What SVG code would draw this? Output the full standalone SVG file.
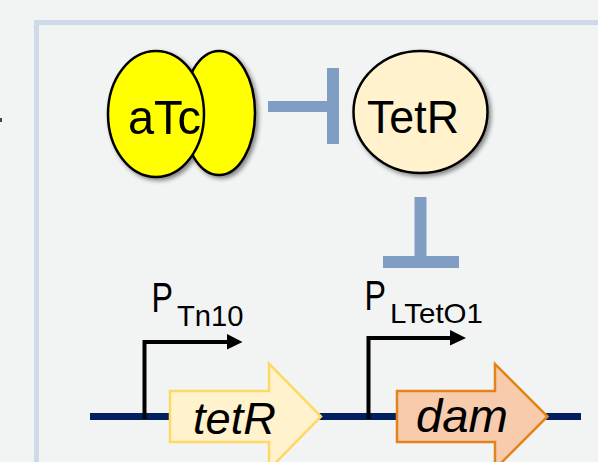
<svg xmlns="http://www.w3.org/2000/svg" width="598" height="462" viewBox="0 0 598 462">
<defs>
<filter id="sh" x="-20%" y="-20%" width="150%" height="150%">
<feDropShadow dx="2.5" dy="2.5" stdDeviation="2" flood-color="#000" flood-opacity="0.45"/>
</filter>
</defs>
<style>
.txt{font-family:"Liberation Sans",Arial,sans-serif;fill:#000}
.inh{fill:#809ec4}
.prom{fill:none;stroke:#000;stroke-width:4}
.mol{stroke:#000;stroke-width:2.5}
</style>
<rect x="0" y="0" width="598" height="462" fill="#f2f3f3"/>
<rect x="0" y="118" width="2" height="4" fill="#444"/>
<rect x="36.5" y="22.5" width="600" height="480" fill="#f2f3f3" stroke="#cfdae8" stroke-width="5"/>
<line x1="90" y1="416.5" x2="581" y2="416.5" stroke="#002060" stroke-width="7"/>
<g id="aTc" filter="url(#sh)">
<ellipse cx="219" cy="113" rx="36" ry="62" fill="#ffff00" class="mol"/>
<ellipse cx="156" cy="114" rx="48" ry="63" fill="#ffff00" class="mol"/>
<text x="164.5" y="134" class="txt" font-size="48" text-anchor="middle" textLength="73" lengthAdjust="spacingAndGlyphs">aTc</text>
</g>
<g id="TetR">
<ellipse cx="420.5" cy="112" rx="67" ry="61" fill="#fff2cc" class="mol" filter="url(#sh)"/>
<text x="413" y="133" class="txt" font-size="46" text-anchor="middle" textLength="92" lengthAdjust="spacingAndGlyphs">TetR</text>
</g>
<g id="connectors">
<rect x="268" y="101" width="62" height="11" class="inh"/>
<rect x="327" y="68" width="12" height="76" class="inh"/>
<rect x="414.5" y="197" width="12" height="62" class="inh"/>
<rect x="383" y="256" width="76" height="12" class="inh"/>
</g>
<g id="PTn10">
<polyline points="144.5,419 144.5,342 229,342" class="prom"/>
<polygon points="227,334 242.5,342 227,349.5" fill="#000"/>
<text x="151.5" y="312" class="txt" font-size="43" textLength="21.5" lengthAdjust="spacingAndGlyphs">P</text>
<text x="177" y="325.5" class="txt" font-size="29" textLength="66.5" lengthAdjust="spacingAndGlyphs">Tn10</text>
</g>
<g id="PLTetO1">
<polyline points="368.5,419 368.5,338 452,338" class="prom"/>
<polygon points="450,330 466,338 450,345.5" fill="#000"/>
<text x="364.5" y="309.5" class="txt" font-size="43" textLength="21.5" lengthAdjust="spacingAndGlyphs">P</text>
<text x="390" y="322.7" class="txt" font-size="28" textLength="93" lengthAdjust="spacingAndGlyphs">LTetO1</text>
</g>
<g id="tetR">
<polygon points="170,391 269,391 269,363.5 321,416.5 269,469.5 269,442 170,442" fill="#fff2cc" stroke="#ffd966" stroke-width="2.5"/>
<text x="193" y="434" class="txt" font-size="44" font-style="italic" textLength="83" lengthAdjust="spacingAndGlyphs">tetR</text>
</g>
<g id="dam">
<polygon points="397,391 495,391 495,364 547.5,416.5 495,469 495,442 397,442" fill="#f8cbad" stroke="#e2841c" stroke-width="2.5"/>
<text x="416" y="432" class="txt" font-size="46" font-style="italic" textLength="92" lengthAdjust="spacingAndGlyphs">dam</text>
</g>
</svg>
